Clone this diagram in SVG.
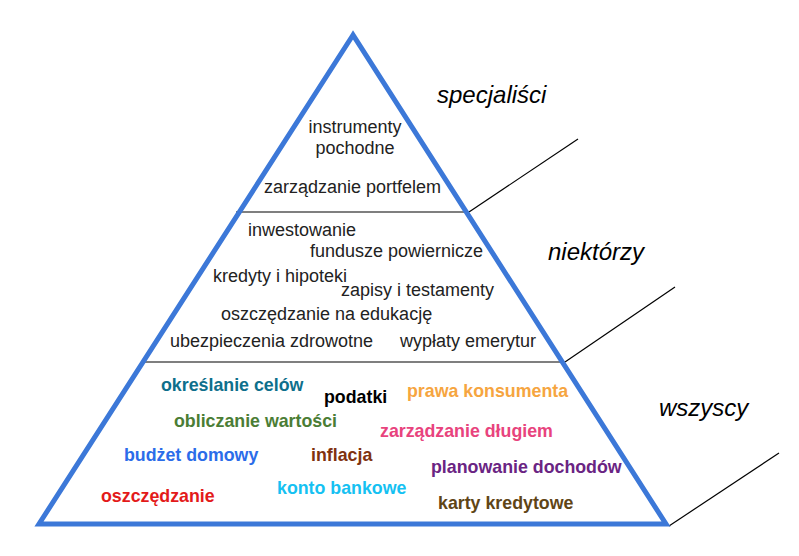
<svg xmlns="http://www.w3.org/2000/svg" width="799" height="556" viewBox="0 0 799 556">
<style>
.pyr{fill:none;stroke:#3c78d8;stroke-width:5;stroke-linejoin:miter}
.ln{stroke:#000;stroke-width:1.2;fill:none}
.t{font-family:"Liberation Sans",Arial,sans-serif;font-size:18px;fill:#222}
.b{font-family:"Liberation Sans",Arial,sans-serif;font-size:17.8px;font-weight:bold}
.lab{font-family:"Liberation Sans",Arial,sans-serif;font-size:24px;font-style:italic;fill:#000}
</style>
<rect width="799" height="556" fill="#fff"/>
<g id="connectors">
<line class="ln" x1="236" y1="212" x2="469" y2="212"/>
<line class="ln" x1="469" y1="212" x2="578" y2="139"/>
<line class="ln" x1="142" y1="362" x2="565" y2="362"/>
<line class="ln" x1="565" y1="362" x2="675" y2="287"/>
<line class="ln" x1="669" y1="526" x2="779" y2="453"/>
</g>
<g id="pyramid">
<polygon class="pyr" points="353,35 39,524 666,524"/>
</g>
<g id="labels">
<text class="lab" x="437" y="103">specjaliści</text>
<text class="lab" x="548" y="260">niektórzy</text>
<text class="lab" x="659" y="416">wszyscy</text>
</g>
<g id="top">
<text class="t" x="355" y="133" text-anchor="middle">instrumenty</text>
<text class="t" x="355" y="154" text-anchor="middle">pochodne</text>
<text class="t" x="264" y="193">zarządzanie portfelem</text>
</g>
<g id="middle">
<text class="t" x="248" y="236">inwestowanie</text>
<text class="t" x="310" y="257">fundusze powiernicze</text>
<text class="t" x="213" y="282">kredyty i hipoteki</text>
<text class="t" x="341" y="296">zapisy i testamenty</text>
<text class="t" x="221" y="320">oszczędzanie na edukację</text>
<text class="t" x="170" y="347">ubezpieczenia zdrowotne</text>
<text class="t" x="400" y="347">wypłaty emerytur</text>
</g>
<g id="bottom">
<text class="b" x="161" y="391" fill="#0e6f8c">określanie celów</text>
<text class="b" x="324" y="403" fill="#000">podatki</text>
<text class="b" x="407" y="397" fill="#f6a53f">prawa konsumenta</text>
<text class="b" x="174" y="427" fill="#4b7d35">obliczanie wartości</text>
<text class="b" x="380" y="437" fill="#e8437d">zarządzanie długiem</text>
<text class="b" x="124" y="461" fill="#2b6ce9">budżet domowy</text>
<text class="b" x="311" y="461" fill="#80320f">inflacja</text>
<text class="b" x="431" y="473" fill="#6a2483">planowanie dochodów</text>
<text class="b" x="277" y="494" fill="#15c1f2">konto bankowe</text>
<text class="b" x="101" y="502" fill="#e31a1a">oszczędzanie</text>
<text class="b" x="438" y="509" fill="#5f4516">karty kredytowe</text>
</g>
</svg>
